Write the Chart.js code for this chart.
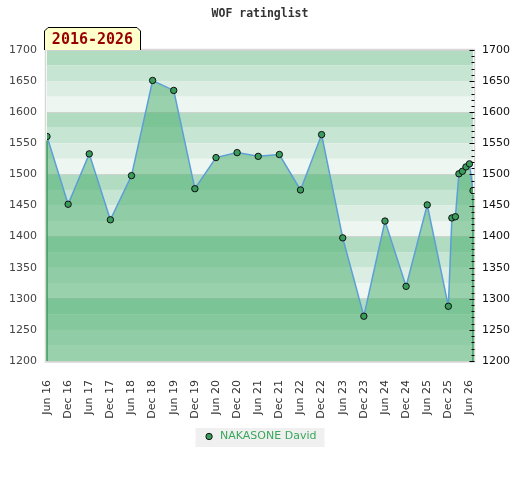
<!DOCTYPE html>
<html>
<head>
<meta charset="utf-8">
<script src="https://cdn.jsdelivr.net/npm/chart.js@4/dist/chart.umd.min.js"></script>
<style>
  html, body { margin: 0; padding: 0; background: #fff; }
  #wrap { width: 520px; height: 480px; }
</style>
</head>
<body>
<div id="wrap"><canvas id="chart" width="520" height="480"></canvas></div>
<script>
// rating list months (yyyy-mm) and ratings
const months = [
    '2016-06', '2016-12', '2017-06', '2017-12', '2018-06', '2018-12',
    '2019-06', '2019-12', '2020-06', '2020-12', '2021-06', '2021-12',
    '2022-06', '2022-12', '2023-06', '2023-12', '2024-06', '2024-12',
    '2025-06', '2025-12', '2026-01', '2026-02', '2026-03', '2026-04',
    '2026-05', '2026-06', '2026-07'
]
const ratings = [
    1561, 1452, 1533, 1427, 1498, 1651,
    1635, 1477, 1527, 1535, 1529, 1532,
    1475, 1564, 1398, 1272, 1425, 1320,
    1451, 1288, 1430, 1432, 1501, 1505,
    1512, 1517, 1474
]
const tickLabels = [
    'Jun 16', 'Dec 16', 'Jun 17', 'Dec 17', 'Jun 18', 'Dec 18', 'Jun 19',
    'Dec 19', 'Jun 20', 'Dec 20', 'Jun 21', 'Dec 21', 'Jun 22', 'Dec 22',
    'Jun 23', 'Dec 23', 'Jun 24', 'Dec 24', 'Jun 25', 'Dec 25', 'Jun 26'
]
const playerName = 'NAKASONE David'
const periodText = '2016-2026'

const bandColors = ['#b2dcc2', '#c6e5d2', '#dcede3', '#eef6f1']

function monthIndex(str) {
    const parts = str.split('-')
    return (Number(parts[0]) - 2016) * 12 + (Number(parts[1]) - 6)
}

const points = []
for (let i = 0; i < months.length; i++) {
    points.push({ x: monthIndex(months[i]), y: ratings[i] })
}

const decorPlugin = {
    id: 'decor',
    beforeDraw(chart) {
        const ctx = chart.ctx
        const area = chart.chartArea
        const y = chart.scales.y
        ctx.save()
        // horizontal bands, 25 points each
        for (let v = y.max; v > y.min; v -= 25) {
            const idx = Math.round((y.max - v) / 25) % 4
            const top = y.getPixelForValue(v)
            const bot = y.getPixelForValue(v - 25)
            ctx.fillStyle = bandColors[idx]
            ctx.fillRect(area.left, top, area.right - area.left, bot - top)
        }
        // frame
        ctx.strokeStyle = '#d8d8d8'
        ctx.lineWidth = 1.5
        ctx.strokeRect(area.left - 1.5, area.top - 0.5, area.right - area.left + 3, area.bottom - area.top + 1.5)
        // legend background
        const hb = chart.legend.legendHitBoxes[0]
        if (hb) {
            ctx.fillStyle = '#f0f0f0'
            ctx.fillRect(hb.left - 8, hb.top - 3, hb.width + 16, hb.height + 8)
        }
        ctx.restore()
    },
    afterDatasetsDraw(chart) {
        const ctx = chart.ctx
        const area = chart.chartArea
        const y = chart.scales.y
        const pts = chart.getDatasetMeta(0).data
        ctx.save()
        // fill edges
        ctx.strokeStyle = '#3a9a5a'
        ctx.lineWidth = 1.5
        const ends = [pts[0], pts[pts.length - 1]]
        for (let p of ends) {
            ctx.beginPath()
            ctx.moveTo(p.x, p.y + 4)
            ctx.lineTo(p.x, area.bottom)
            ctx.stroke()
        }
        // right axis ticks, pointing inward
        ctx.strokeStyle = '#000'
        ctx.lineWidth = 1
        for (let v = y.min; v <= y.max; v += 10) {
            const py = Math.round(y.getPixelForValue(v)) + 0.5
            const len = v % 50 === 0 ? 5 : 3
            ctx.beginPath()
            ctx.moveTo(area.right + 1.5 - len, py)
            ctx.lineTo(area.right + 1.5, py)
            ctx.stroke()
        }
        ctx.restore()
    },
    afterDraw(chart) {
        const ctx = chart.ctx
        const area = chart.chartArea
        const l = area.left - 2.5
        const r = area.left + 93.5
        const t = area.top - 22.5
        const b = area.top
        ctx.save()
        ctx.beginPath()
        ctx.moveTo(l, b)
        ctx.lineTo(l, t + 3.5)
        ctx.lineTo(l + 3.5, t)
        ctx.lineTo(r - 3.5, t)
        ctx.lineTo(r, t + 3.5)
        ctx.lineTo(r, b)
        ctx.fillStyle = '#ffffcc'
        ctx.fill()
        ctx.strokeStyle = '#000'
        ctx.lineWidth = 1
        ctx.stroke()
        ctx.fillStyle = '#990000'
        ctx.font = 'bold 15px "DejaVu Sans Mono"'
        ctx.textAlign = 'center'
        ctx.textBaseline = 'middle'
        ctx.fillText(periodText, (l + r) / 2, t + 12.5)
        ctx.restore()
    }
}

const config = {
    type: 'line',
    data: {
        datasets: [{
            label: playerName,
            data: points,
            borderColor: '#5b9fd6',
            borderWidth: 1.5,
            backgroundColor: 'rgba(68, 172, 104, 0.5)',
            fill: 'start',
            tension: 0,
            pointRadius: 3.2,
            pointBorderWidth: 1,
            pointBorderColor: '#111',
            pointBackgroundColor: '#3a9c5c'
        }]
    },
    options: {
        responsive: false,
        animation: false,
        devicePixelRatio: 1,
        layout: { padding: { left: 0, right: 0, top: 0, bottom: 28 } },
        plugins: {
            title: {
                display: true,
                text: 'WOF ratinglist',
                color: '#333',
                font: { family: '"DejaVu Sans Mono"', size: 11.5, weight: 'bold' },
                padding: { top: 7, bottom: 29.2 }
            },
            legend: {
                position: 'bottom',
                labels: {
                    usePointStyle: true,
                    boxHeight: 4.5,
                    color: '#3aa85c',
                    font: { family: '"DejaVu Sans"', size: 11 },
                    padding: 10
                }
            },
            tooltip: { enabled: false }
        },
        scales: {
            x: {
                type: 'linear',
                min: 0,
                max: 121,
                afterBuildTicks(scale) {
                    scale.ticks = tickLabels.map((l, i) => ({ value: i * 6 }))
                },
                afterFit(scale) { scale.height = 60 },
                grid: { display: false },
                border: { display: false },
                ticks: {
                    autoSkip: false,
                    maxRotation: 90,
                    minRotation: 90,
                    padding: 11,
                    color: '#333',
                    font: { family: '"DejaVu Sans"', size: 11 },
                    callback: (v) => tickLabels[Math.round(v / 6)]
                }
            },
            y: {
                position: 'left',
                min: 1200,
                max: 1700,
                afterFit(scale) { scale.width = 47 },
                border: { display: false },
                grid: {
                    drawTicks: false,
                    color: (c) => c.tick.value % 100 === 0 ? '#cfd3cf' : 'rgba(0,0,0,0)'
                },
                ticks: {
                    stepSize: 50,
                    padding: 10,
                    color: '#444',
                    font: { family: '"DejaVu Sans"', size: 11 },
                    callback: (v) => String(v)
                }
            },
            y2: {
                position: 'right',
                display: true,
                min: 1200,
                max: 1700,
                afterFit(scale) { scale.width = 47 },
                border: { display: false },
                grid: { display: false, drawTicks: false },
                ticks: {
                    stepSize: 50,
                    padding: 9,
                    color: '#111',
                    font: { family: '"DejaVu Sans"', size: 11 },
                    callback: (v) => String(v)
                }
            }
        }
    },
    plugins: [decorPlugin]
}

const myChart = new Chart(document.getElementById('chart'), config)
</script>
</body>
</html>
